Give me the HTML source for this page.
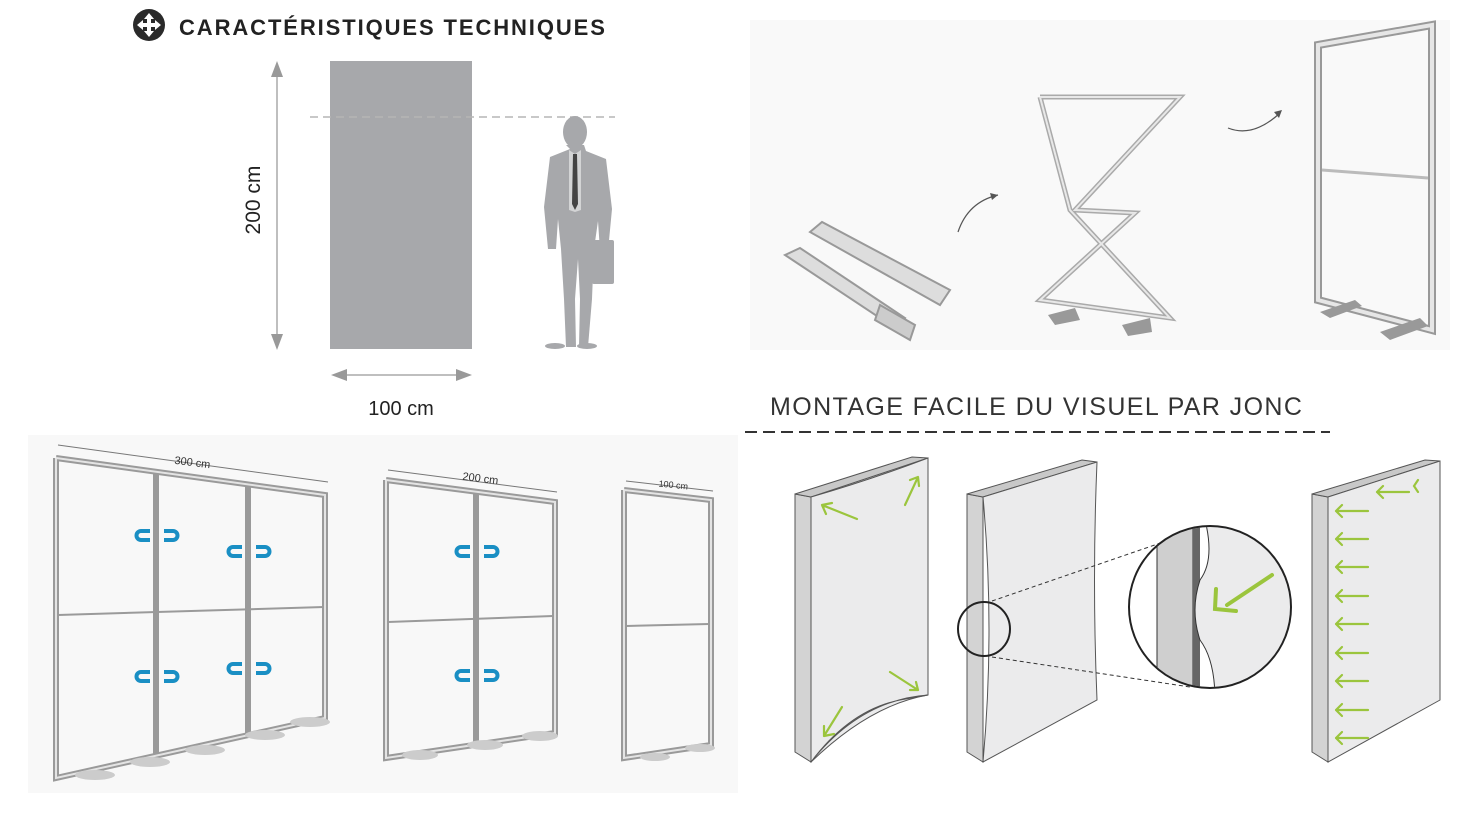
<!DOCTYPE html>
<html><head><meta charset="utf-8"><style>
html,body{margin:0;padding:0;background:#fff;}
svg{display:block}
text{font-family:"Liberation Sans",sans-serif}
</style></head><body>
<svg width="1478" height="819" viewBox="0 0 1478 819" xmlns="http://www.w3.org/2000/svg">
<defs><clipPath id="mag"><circle cx="1210" cy="607" r="80"/></clipPath></defs>
<!-- backgrounds -->
<rect x="750" y="20" width="700" height="330" fill="#f9f9f9"/>
<rect x="28" y="435" width="710" height="358" fill="#f8f8f8"/>
<!-- title -->
<circle cx="149" cy="25" r="16" fill="#2a2a2a"/>
<path d="M149 13 l5 6 h-3 v4 h4 v-3 l6 5 -6 5 v-3 h-4 v4 h3 l-5 6 -5 -6 h3 v-4 h-4 v3 l-6 -5 6 -5 v3 h4 v-4 h-3z" fill="#fff"/>
<text x="179" y="35" font-size="22" font-weight="bold" fill="#222" letter-spacing="1.9">CARACTÉRISTIQUES TECHNIQUES</text>
<!-- dimension diagram -->
<rect x="330" y="61" width="142" height="288" fill="#a7a8ab"/>
<line x1="310" y1="117" x2="615" y2="117" stroke="#b5b5b5" stroke-width="1.5" stroke-dasharray="8,5"/>
<line x1="277" y1="70" x2="277" y2="340" stroke="#aaa" stroke-width="1.5"/>
<polygon points="277,61 271,77 283,77" fill="#999"/>
<polygon points="277,350 271,334 283,334" fill="#999"/>
<text transform="translate(260,200) rotate(-90)" font-size="21" text-anchor="middle" fill="#222">200 cm</text>
<line x1="340" y1="375" x2="462" y2="375" stroke="#aaa" stroke-width="1.5"/>
<polygon points="331,375 347,369 347,381" fill="#999"/>
<polygon points="472,375 456,369 456,381" fill="#999"/>
<text x="401" y="415" font-size="20" text-anchor="middle" fill="#222">100 cm</text>
<!-- person -->
<g fill="#a7a8ab">
<ellipse cx="575" cy="132" rx="12" ry="16"/>
<path d="M566 145 h18 l2 6 20 8 6 50 -4 42 h-8 l-2 -30 -4 28 -2 50 -4 48 h-9 l1 -48 -2 -40 -3 40 1 48 h-10 l-2 -48 -3 -50 -3 -30 -2 30 h-8 l-4 -42 6 -50 20 -8z"/>
<rect x="592" y="240" width="22" height="44" rx="2"/>
<ellipse cx="555" cy="346" rx="10" ry="3"/><ellipse cx="587" cy="346" rx="10" ry="3"/>
</g>
<path d="M569 150 l6 4 6 -4 0 60 -6 2 -6 -2z" fill="#fff" opacity="0.5"/>
<path d="M573 154 h4 l1 50 -3 6 -3 -6z" fill="#444"/>
<!-- top right: folded -->
<g stroke="#999" stroke-width="2" fill="#ddd">
<polygon points="785,255 800,248 905,318 895,328"/>
<polygon points="810,232 822,222 950,290 940,305"/>
<polygon points="880,305 915,325 910,340 875,320" fill="#ccc"/>
</g>
<path d="M958 232 q10 -30 40 -37" stroke="#555" fill="none" stroke-width="1.2"/>
<polygon points="998,195 990,193 992,200" fill="#555"/>
<!-- X frame -->
<g stroke="#aaa" stroke-width="5" fill="none">
<polyline points="1040,97 1180,97 1075,210 1135,213 1040,300 1170,318 1070,210 1040,97"/>
</g>
<g stroke="#e8e8e8" stroke-width="2" fill="none">
<polyline points="1040,97 1180,97 1075,210 1135,213 1040,300 1170,318 1070,210 1040,97"/>
</g>
<polygon points="1048,315 1075,308 1080,320 1055,325" fill="#999"/>
<polygon points="1122,325 1150,318 1152,332 1128,336" fill="#999"/>
<path d="M1228 128 q25 10 52 -15" stroke="#555" fill="none" stroke-width="1.2"/>
<polygon points="1282,110 1274,112 1279,118" fill="#555"/>
<!-- final frame -->
<g fill="none">
<polygon points="1318,45 1432,25 1432,330 1318,300" stroke="#999" stroke-width="8"/>
<polygon points="1318,45 1432,25 1432,330 1318,300" stroke="#e6e6e6" stroke-width="4"/>
<line x1="1322" y1="170" x2="1428" y2="178" stroke="#bbb" stroke-width="3"/>
</g>
<polygon points="1320,312 1355,300 1362,306 1330,318" fill="#999"/>
<polygon points="1380,332 1420,318 1428,326 1390,340" fill="#999"/>
<!-- montage heading -->
<text x="770" y="415" font-size="25" fill="#333" letter-spacing="1.4">MONTAGE FACILE DU VISUEL PAR JONC</text>
<line x1="745" y1="432" x2="1330" y2="432" stroke="#333" stroke-width="2" stroke-dasharray="12,6"/>
<!-- panels -->
<g stroke="#555" stroke-width="1">
<polygon points="795,494 811,497 811,762 795,752" fill="#d3d3d3"/>
<polygon points="795,494 912,457 928,458 811,497" fill="#c8c8c8"/>
<path d="M811,497 Q870,480 928,458 L928,695 Q870,705 811,762 Z" fill="#ebebec"/>
<path d="M811,762 Q860,700 928,695 L900,700 Q850,710 811,762Z" fill="#8a8a8a"/>
<polygon points="967,494 983,497 983,762 967,752" fill="#d3d3d3"/>
<polygon points="967,494 1082,460 1097,462 983,497" fill="#c8c8c8"/>
<path d="M983,497 L1097,462 Q1092,580 1097,700 L983,762 Q995,630 983,497Z" fill="#ebebec"/>
<polygon points="1312,494 1328,497 1328,762 1312,752" fill="#d3d3d3"/>
<polygon points="1312,494 1425,460 1440,461 1328,497" fill="#c8c8c8"/>
<polygon points="1328,497 1440,461 1440,700 1328,762" fill="#ebebec"/>
</g>
<ellipse cx="984" cy="629" rx="26" ry="27" fill="none" stroke="#222" stroke-width="2"/>
<line x1="992" y1="601" x2="1175" y2="538" stroke="#333" stroke-dasharray="4,3"/>
<line x1="992" y1="657" x2="1190" y2="687" stroke="#333" stroke-dasharray="4,3"/>
<circle cx="1210" cy="607" r="81" fill="#fff"/>
<g clip-path="url(#mag)">
<rect x="1120" y="520" width="190" height="180" fill="#fff"/>
<path d="M1157 520 L1193 520 L1193 700 L1157 700Z" fill="#cfcfcf" stroke="#333"/>
<rect x="1193" y="520" width="7" height="180" fill="#666"/>
<path d="M1205 520 Q1215 560 1200 580 Q1190 610 1200 640 Q1215 660 1215 700 L1300 700 L1300 520Z" fill="#ebebec" stroke="#333"/>
</g>
<circle cx="1210" cy="607" r="81" fill="none" stroke="#222" stroke-width="2"/>
<g stroke="#9bc53d" stroke-width="2.2" fill="none" stroke-linecap="round">
<path d="M1272 575 L1227 605 M1216 589 L1215 609 L1236 611" stroke-width="4"/>
<path d="M857 519 L822 505 M822 505 L826 514 M822 505 L832 503"/>
<path d="M905 505 L918 477 M918 477 L910 480 M918 477 L919 486"/>
<path d="M890 672 L918 690 M918 690 L910 690 M918 690 L916 682"/>
<path d="M842 707 L824 736 M824 736 L834 734 M824 736 L824 726"/>
<path d="M1377 492 h32 m-32 0 l6 -6 m-6 6 l6 6 M1418 480 l-4 6 4 6"/>
<path d="M1336 511 h32 m-32 0 l6 -6 m-6 6 l6 6"/>
<path d="M1336 539 h32 m-32 0 l6 -6 m-6 6 l6 6"/>
<path d="M1336 567 h32 m-32 0 l6 -6 m-6 6 l6 6"/>
<path d="M1336 596 h32 m-32 0 l6 -6 m-6 6 l6 6"/>
<path d="M1336 624 h32 m-32 0 l6 -6 m-6 6 l6 6"/>
<path d="M1336 653 h32 m-32 0 l6 -6 m-6 6 l6 6"/>
<path d="M1336 681 h32 m-32 0 l6 -6 m-6 6 l6 6"/>
<path d="M1336 710 h32 m-32 0 l6 -6 m-6 6 l6 6"/>
<path d="M1336 738 h32 m-32 0 l6 -6 m-6 6 l6 6"/>
</g>
<!-- bottom-left frames -->
<g fill="none" stroke="#9a9a9a" stroke-width="6">
<polyline points="56,458 56,778 325,718 325,495 56,458"/>
<line x1="156" y1="472" x2="156" y2="754"/>
<line x1="248" y1="485" x2="248" y2="735"/>
<line x1="58" y1="615" x2="324" y2="607" stroke-width="2"/>
<polyline points="386,480 386,758 555,733 555,502 386,480"/>
<line x1="476" y1="492" x2="476" y2="745"/>
<line x1="388" y1="622" x2="553" y2="616" stroke-width="2"/>
<polyline points="624,490 624,758 711,745 711,500 624,490"/>
<line x1="626" y1="626" x2="709" y2="624" stroke-width="2"/>
</g>
<g fill="none" stroke="#e4e4e4" stroke-width="2">
<polyline points="56,458 56,778 325,718 325,495 56,458"/>
<polyline points="386,480 386,758 555,733 555,502 386,480"/>
<polyline points="624,490 624,758 711,745 711,500 624,490"/>
</g>
<g stroke="#777" stroke-width="1">
<line x1="58" y1="445" x2="328" y2="482"/><line x1="388" y1="470" x2="557" y2="492"/><line x1="626" y1="481" x2="713" y2="491"/>
</g>
<text x="192" y="466" font-size="11" fill="#333" transform="rotate(7 192 466)" text-anchor="middle">300 cm</text>
<text x="480" y="482" font-size="11" fill="#333" transform="rotate(7 480 482)" text-anchor="middle">200 cm</text>
<text x="673" y="488" font-size="9" fill="#333" transform="rotate(6 673 488)" text-anchor="middle">100 cm</text>
<g fill="#ccc"><ellipse cx="95" cy="775" rx="20" ry="5"/><ellipse cx="150" cy="762" rx="20" ry="5"/><ellipse cx="205" cy="750" rx="20" ry="5"/><ellipse cx="265" cy="735" rx="20" ry="5"/><ellipse cx="310" cy="722" rx="20" ry="5"/><ellipse cx="420" cy="755" rx="18" ry="5"/><ellipse cx="485" cy="745" rx="18" ry="5"/><ellipse cx="540" cy="736" rx="18" ry="5"/><ellipse cx="655" cy="757" rx="15" ry="4"/><ellipse cx="700" cy="748" rx="15" ry="4"/></g>
<!-- magnets -->
<g fill="none" stroke="#1a8fc4" stroke-width="4" stroke-linecap="butt">
<path d="M150 531 h-9 a4 4 0 0 0 0 9 h9 M164 531 h9 a4 4 0 0 1 0 9 h-9"/>
<path d="M242 547 h-9 a4 4 0 0 0 0 9 h9 M256 547 h9 a4 4 0 0 1 0 9 h-9"/>
<path d="M150 672 h-9 a4 4 0 0 0 0 9 h9 M164 672 h9 a4 4 0 0 1 0 9 h-9"/>
<path d="M242 664 h-9 a4 4 0 0 0 0 9 h9 M256 664 h9 a4 4 0 0 1 0 9 h-9"/>
<path d="M470 547 h-9 a4 4 0 0 0 0 9 h9 M484 547 h9 a4 4 0 0 1 0 9 h-9"/>
<path d="M470 671 h-9 a4 4 0 0 0 0 9 h9 M484 671 h9 a4 4 0 0 1 0 9 h-9"/>
</g>
</svg>
</body></html>
